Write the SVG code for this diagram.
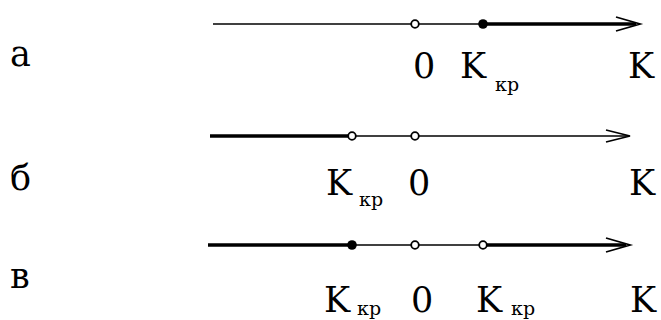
<svg xmlns="http://www.w3.org/2000/svg" width="661" height="320" viewBox="0 0 661 320">
<style>
text{font-family:'DejaVu Serif',serif;fill:#000}
.t{font-size:35px}
.s{font-size:19px}
.thin{stroke:#000;stroke-width:1.6;fill:none}
.thick{stroke:#000;stroke-width:3.6;fill:none}
.head{stroke:#000;stroke-width:1.8;fill:none;stroke-linejoin:miter}
.open{fill:#fff;stroke:#000;stroke-width:1.8}
.dot{fill:#000}
</style>
<rect width="661" height="320" fill="#fff"/>
<g id="labels-left">
<text class="t" x="10" y="66">а</text>
<text class="t" x="10" y="190">б</text>
<text class="t" x="10" y="288" font-family="Liberation Serif">в</text>
</g>
<g id="connectors">
<line class="thin" x1="213" y1="24" x2="483" y2="24"/>
<line class="thick" x1="483" y1="24" x2="636" y2="24"/>
<path class="head" d="M616,17 L640,24 L616,31"/>
<line class="thick" x1="210" y1="136" x2="352" y2="136"/>
<line class="thin" x1="352" y1="136" x2="628" y2="136"/>
<path class="head" d="M606,130 L630,136 L606,142"/>
<line class="thick" x1="208" y1="245" x2="352" y2="245"/>
<line class="thin" x1="352" y1="245" x2="483" y2="245"/>
<line class="thick" x1="483" y1="245" x2="626" y2="245"/>
<path class="head" d="M606,238 L630,245 L606,252"/>
</g>
<g id="row-a">
<circle class="open" cx="415" cy="24" r="3.8"/>
<circle class="dot" cx="483" cy="24" r="4.8"/>
<text class="t" x="413" y="78">0</text>
<text class="t" x="460" y="78">K</text>
<text class="s" x="495" y="91">кр</text>
<text class="t" x="628" y="78">K</text>
</g>
<g id="row-b">
<circle class="open" cx="352" cy="136" r="3.8"/>
<circle class="open" cx="415" cy="136" r="3.8"/>
<text class="t" x="326" y="195">K</text>
<text class="s" x="359" y="206">кр</text>
<text class="t" x="408" y="195">0</text>
<text class="t" x="629" y="195">K</text>
</g>
<g id="row-c">
<circle class="dot" cx="352" cy="245" r="4.8"/>
<circle class="open" cx="415" cy="245" r="3.8"/>
<circle class="open" cx="483" cy="245" r="3.8"/>
<text class="t" x="324" y="312">K</text>
<text class="s" x="357" y="315">кр</text>
<text class="t" x="411" y="312">0</text>
<text class="t" x="476" y="312">K</text>
<text class="s" x="511" y="315">кр</text>
<text class="t" x="630" y="312">K</text>
</g>
</svg>
